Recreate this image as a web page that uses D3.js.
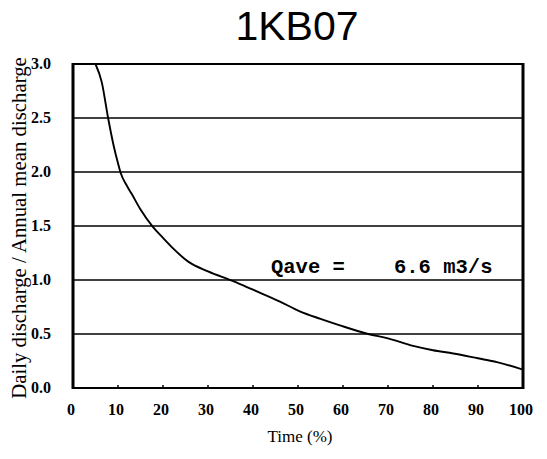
<!DOCTYPE html>
<html><head><meta charset="utf-8">
<script src="https://cdn.jsdelivr.net/npm/d3@7"></script>
<style>html,body{margin:0;padding:0;background:#fff;}svg{display:block;}</style>
</head><body>
<script>
const title = "1KB07";
const timePct = [5, 6.4, 7.8, 9, 10, 10.6, 12, 13, 14.9, 17.8, 20, 22.3, 25.6, 30, 35.6, 40, 46, 50.4, 55, 59.3, 65.6, 70, 75.6, 80, 84.5, 90, 94.2, 100];
const ratio   = [3.0, 2.83, 2.5, 2.25, 2.08, 1.99, 1.87, 1.80, 1.66, 1.49, 1.39, 1.29, 1.17, 1.08, 0.99, 0.91, 0.80, 0.71, 0.64, 0.58, 0.50, 0.46, 0.39, 0.35, 0.32, 0.275, 0.24, 0.17];
const xTicks = [0, 10, 20, 30, 40, 50, 60, 70, 80, 90, 100];
const yTicks = [0.0, 0.5, 1.0, 1.5, 2.0, 2.5, 3.0];
const annotation = "Qave =    6.6 m3/s";
const xTitle = "Time (%)";
const yTitle = "Daily discharge / Annual mean discharge";

const W = 547, H = 459;
const svg = d3.select("body").append("svg").attr("width", W).attr("height", H);
const x = d3.scaleLinear().domain([0, 100]).range([73, 523]);
const y = d3.scaleLinear().domain([0, 3]).range([388, 64]);
const serif = "'Liberation Serif', 'Times New Roman', serif";

svg.append("text").attr("x", 297).attr("y", 40).attr("text-anchor", "middle")
  .attr("font-family", "'Liberation Sans', Arial, sans-serif").attr("font-size", 41)
  .attr("fill", "#000").text(title);

// gridlines
svg.append("g").selectAll("line").data(yTicks.filter(v => v > 0 && v < 3)).join("line")
  .attr("x1", x(0)).attr("x2", x(100)).attr("y1", d => y(d)).attr("y2", d => y(d))
  .attr("stroke", "#000").attr("stroke-width", 1.4);

// x tick marks (inside)
svg.append("g").selectAll("line").data(xTicks.filter(v => v > 0 && v < 100)).join("line")
  .attr("x1", d => x(d)).attr("x2", d => x(d)).attr("y1", y(0)).attr("y2", y(0) - 3)
  .attr("stroke", "#000").attr("stroke-width", 1.5);

// curve
svg.append("clipPath").attr("id", "clip").append("rect")
  .attr("x", x(0)).attr("y", y(3)).attr("width", x(100) - x(0)).attr("height", y(0) - y(3));
const pts = timePct.map((t, i) => [t, ratio[i]]);
svg.append("path").datum(pts).attr("clip-path", "url(#clip)")
  .attr("d", d3.line().x(d => x(d[0])).y(d => y(d[1])).curve(d3.curveMonotoneX))
  .attr("fill", "none").attr("stroke", "#000").attr("stroke-width", 1.9);

// frame
svg.append("line").attr("x1", x(0)).attr("x2", x(100)).attr("y1", y(3)).attr("y2", y(3)).attr("stroke", "#000").attr("stroke-width", 2);
svg.append("line").attr("x1", x(0)).attr("x2", x(100)).attr("y1", y(0)).attr("y2", y(0)).attr("stroke", "#000").attr("stroke-width", 2);
svg.append("line").attr("x1", x(0)).attr("x2", x(0)).attr("y1", y(3) - 1).attr("y2", y(0) + 1).attr("stroke", "#000").attr("stroke-width", 3);
svg.append("line").attr("x1", x(100)).attr("x2", x(100)).attr("y1", y(3) - 1).attr("y2", y(0) + 1).attr("stroke", "#000").attr("stroke-width", 3);

// y tick labels
svg.append("g").selectAll("text").data(yTicks).join("text")
  .attr("x", 51).attr("y", d => y(d) + 5).attr("text-anchor", "end")
  .attr("font-family", serif).attr("font-weight", "bold").attr("font-size", 16)
  .text(d => d.toFixed(1));

// x tick labels
svg.append("g").selectAll("text").data(xTicks).join("text")
  .attr("x", d => x(d) - 2).attr("y", 415).attr("text-anchor", "middle")
  .attr("font-family", serif).attr("font-weight", "bold").attr("font-size", 16)
  .text(d => d);

svg.append("text").attr("x", 300).attr("y", 442).attr("text-anchor", "middle")
  .attr("font-family", serif).attr("font-size", 17).text(xTitle);

svg.append("text").attr("transform", "translate(26,228) rotate(-90)").attr("text-anchor", "middle")
  .attr("font-family", serif).attr("font-size", 20.8).text(yTitle);

svg.append("text").attr("x", 271).attr("y", 273).attr("xml:space", "preserve").style("white-space", "pre")
  .attr("font-family", "'Liberation Mono', 'Courier New', monospace").attr("font-weight", "bold")
  .attr("font-size", 20.5).text(annotation);
</script>
</body></html>
